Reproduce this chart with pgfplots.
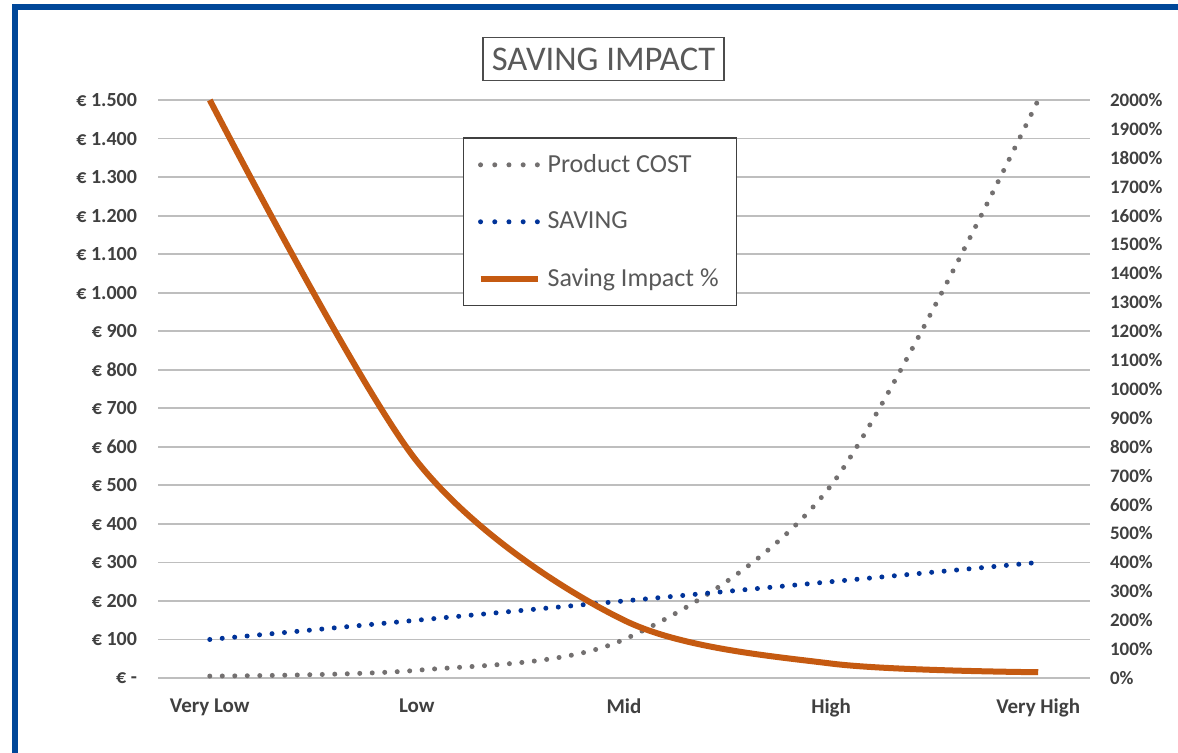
\documentclass[border=0pt]{standalone}
\usepackage{pgfplots}
\pgfplotsset{compat=1.18}
\usepackage{fontspec}
\setmainfont{Carlito}

\definecolor{costgray}{RGB}{115,112,112}
\definecolor{saveblue}{RGB}{0,51,153}
\definecolor{impactorange}{RGB}{197,90,17}
\definecolor{gridgray}{RGB}{190,190,190}
\definecolor{framecolor}{RGB}{0,71,153}
\definecolor{labelgray}{RGB}{64,64,64}
\definecolor{titlegray}{RGB}{89,89,89}

\tikzset{
  dotline/.style={line width=2.5pt, line cap=round, dash pattern=on 0pt off 6.25pt},
}

\begin{document}
\begin{tikzpicture}
\useasboundingbox (0,0) rectangle (589pt,376pt);
\begin{scope}
  \clip (0,0) rectangle (589pt,376pt);
  \fill[white] (0,0) rectangle (589pt,376pt);
  \draw[framecolor, line width=3pt] (7.3pt,-5pt) -- (7.3pt,372.6pt) -- (600pt,372.6pt);
\end{scope}

% left axis: product cost and saving in euro
\begin{axis}[
    at={(79pt,37pt)}, anchor=south west,
    scale only axis, width=466pt, height=289pt,
    xmin=-0.25, xmax=4.25,
    ymin=0, ymax=1500,
    xtick={0,1,2,3,4},
    xticklabels={Very Low, Low, Mid, High, Very High},
    ytick={0,100,...,1500},
    yticklabels={€ -, € 100, € 200, € 300, € 400, € 500, € 600, € 700, € 800, € 900, € 1.000, € 1.100, € 1.200, € 1.300, € 1.400, € 1.500},
    ymajorgrids,
    grid style={gridgray, line width=0.9pt},
    axis line style={draw=none},
    major tick length=0pt,
    tick label style={font=\fontsize{10}{12}\selectfont\bfseries, text=labelgray},
    xticklabel style={font=\fontsize{10.5}{12}\selectfont\bfseries, yshift=-7pt},
    yticklabel style={xshift=-7pt},
    clip=false,
  ]
  % Product COST
  \addplot[costgray, dotline, smooth] coordinates {
    (0, 5) (1, 20) (2, 100) (3, 500) (4, 1500)
  };
  % SAVING
  \addplot[saveblue, dotline, smooth] coordinates {
    (0, 100) (1, 150) (2, 200) (3, 250) (4, 300)
  };
\end{axis}

% right axis: saving impact in percent
\begin{axis}[
    at={(79pt,37pt)}, anchor=south west,
    scale only axis, width=466pt, height=289pt,
    xmin=-0.25, xmax=4.25,
    ymin=0, ymax=2000,
    hide x axis,
    axis y line*=right,
    axis line style={draw=none},
    major tick length=0pt,
    ytick={0,100,...,2000},
    yticklabels={0\%, 100\%, 200\%, 300\%, 400\%, 500\%, 600\%, 700\%, 800\%, 900\%, 1000\%, 1100\%, 1200\%, 1300\%, 1400\%, 1500\%, 1600\%, 1700\%, 1800\%, 1900\%, 2000\%},
    yticklabel style={font=\fontsize{9.5}{11}\selectfont\bfseries, text=labelgray, xshift=6.5pt},
    legend style={
      at={(0.327,0.936)}, anchor=north west,
      draw=black!75, line width=0.8pt, fill=white,
      font=\fontsize{13}{15}\selectfont, text=titlegray,
      inner xsep=7pt, inner ysep=6.25pt,
      row sep=14.25pt,
      /tikz/every odd column/.append style={column sep=1.5pt},
    },
    legend cell align=left,
    legend image code/.code={\draw[#1] (0pt,0pt) -- (28.5pt,0pt);},
    clip=false,
  ]
  \addlegendimage{costgray, dotline, dash pattern=on 0pt off 7.1pt}
  \addlegendentry{Product COST}
  \addlegendimage{saveblue, dotline, dash pattern=on 0pt off 7.1pt}
  \addlegendentry{SAVING}
  % Saving Impact %
  \addplot[impactorange, line width=3pt, smooth] coordinates {
    (0, 2000) (1, 750) (2, 200) (3, 50) (4, 20)
  };
  \addlegendentry{Saving Impact \%}
\end{axis}

\node[draw=black!70, line width=0.8pt, fill=white, text=titlegray,
      font=\fontsize{17.3}{20}\selectfont, inner xsep=4.5pt, inner ysep=5pt]
  at (301.75pt,346.5pt) {SAVING IMPACT};
\end{tikzpicture}
\end{document}
